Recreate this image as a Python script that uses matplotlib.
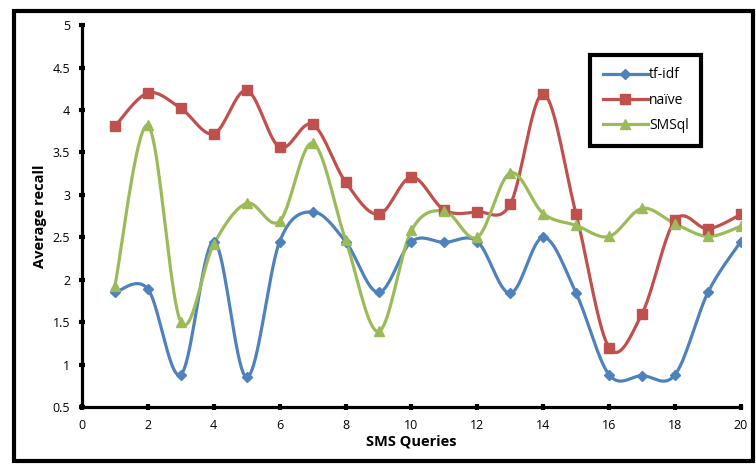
import numpy as np
import matplotlib
matplotlib.use("Agg")
import matplotlib.pyplot as plt
from matplotlib.patches import Rectangle

queries = list(range(1, 21))
tfidf = [1.85, 1.89, 0.88, 2.45, 0.85, 2.45, 2.80, 2.45, 1.85, 2.45,
         2.44, 2.45, 1.84, 2.50, 1.84, 0.88, 0.87, 0.88, 1.85, 2.45]
naive = [3.81, 4.20, 4.02, 3.72, 4.23, 3.56, 3.83, 3.15, 2.77, 3.21,
         2.82, 2.80, 2.89, 4.19, 2.77, 1.20, 1.60, 2.70, 2.60, 2.77]
smsql = [1.93, 3.82, 1.50, 2.42, 2.90, 2.69, 3.61, 2.47, 1.39, 2.58,
         2.81, 2.50, 3.26, 2.78, 2.64, 2.51, 2.84, 2.66, 2.51, 2.63]


def smooth(xs, ys, n=20):
    # excel style smoothed line: catmull-rom through the points
    x = np.asarray(xs, float)
    y = np.asarray(ys, float)
    px = np.concatenate([[x[0]], x, [x[-1]]])
    py = np.concatenate([[y[0]], y, [y[-1]]])
    out_x, out_y = [], []
    t = np.linspace(0, 1, n)
    for i in range(1, len(px) - 2):
        p0, p1, p2, p3 = px[i-1], px[i], px[i+1], px[i+2]
        q0, q1, q2, q3 = py[i-1], py[i], py[i+1], py[i+2]
        c1x, c1y = p1 + (p2 - p0) / 6, q1 + (q2 - q0) / 6
        c2x, c2y = p2 - (p3 - p1) / 6, q2 - (q3 - q1) / 6
        bx = (1-t)**3*p1 + 3*(1-t)**2*t*c1x + 3*(1-t)*t**2*c2x + t**3*p2
        by = (1-t)**3*q1 + 3*(1-t)**2*t*c1y + 3*(1-t)*t**2*c2y + t**3*q2
        out_x.extend(bx)
        out_y.extend(by)
    return out_x, out_y


plt.rcParams['font.family'] = ['Open Sans', 'DejaVu Sans']

fig = plt.figure(figsize=(7.56, 4.65), dpi=100)
ax = fig.add_axes([0.1085, 0.1247, 0.8715, 0.8213])

series = [
    ("tf-idf", tfidf, "#4F81BD", "D", 5),
    ("naïve", naive, "#C0504D", "s", 7),
    ("SMSql", smsql, "#9BBB59", "^", 7.5),
]
for name, vals, col, mk, ms in series:
    sx, sy = smooth(queries, vals)
    ax.plot(sx, sy, color=col, lw=2.3, zorder=2)
    ax.plot(queries, vals, ls="none", marker=mk, ms=ms, color=col, zorder=3)
    ax.plot([], [], color=col, lw=2.3, marker=mk, ms=ms, label=name)

ax.set_xlim(0, 20)
ax.set_ylim(0.5, 5)
ax.set_xticks(range(0, 21, 2))
ax.set_yticks(np.arange(0.5, 5.01, 0.5))
ax.set_yticklabels(["0.5", "1", "1.5", "2", "2.5", "3", "3.5", "4", "4.5", "5"])
ax.spines["top"].set_visible(False)
ax.spines["right"].set_visible(False)
ax.spines["left"].set_linewidth(2.3)
ax.spines["bottom"].set_linewidth(2.3)
ax.tick_params(direction="inout", length=5, width=3, labelsize=9, pad=6)
ax.set_xlabel("SMS Queries", fontsize=10.5, fontweight="bold", labelpad=2)
ax.set_ylabel("Average recall", fontsize=10.5, fontweight="bold", labelpad=4)

leg = ax.legend(loc="upper left", bbox_to_anchor=(590/756, 1-55/465),
                bbox_transform=fig.transFigure, fontsize=10, fancybox=False,
                handlelength=3.3, handletextpad=0.05, labelspacing=0.75,
                borderpad=0.9, borderaxespad=0)
leg.get_frame().set_edgecolor("black")
leg.get_frame().set_linewidth(3)
leg.get_frame().set_alpha(1)

fig.patches.append(Rectangle((0.018, 0.009), 0.978, 0.968, transform=fig.transFigure,
                             fill=False, edgecolor="black", lw=3))

fig.savefig("out.png", dpi=100)
